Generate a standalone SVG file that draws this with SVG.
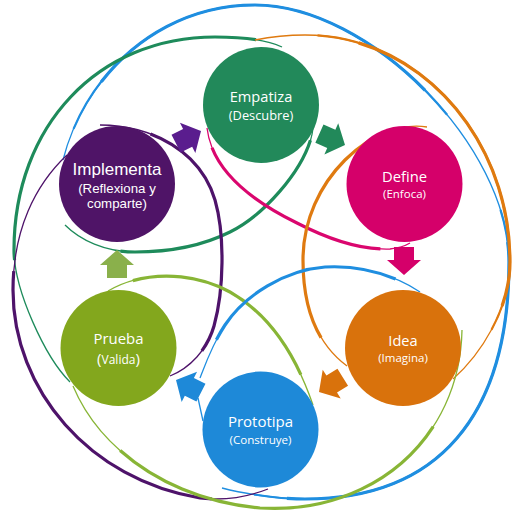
<svg xmlns="http://www.w3.org/2000/svg" xmlns:xlink="http://www.w3.org/1999/xlink" width="521" height="519" viewBox="0 0 521 519">
<style>
.ln{fill:none;stroke-linecap:butt;stroke-linejoin:round}
.w1{stroke-width:1.3}
.w2{stroke-width:2.2}
.w3{stroke-width:3.2}
.blue{stroke:#1F8EE0}
.green{stroke:#1E8B5B}
.mag{stroke:#DA066E}
.ora{stroke:#DF7A10}
.pur{stroke:#4E136A}
.oli{stroke:#88B536}
.t1{font-family:"Open Sans","Noto Sans",sans-serif;fill:#fff;text-anchor:middle}
.t2{font-family:"Liberation Sans",Arial,sans-serif;fill:#fff;text-anchor:middle}
</style>
<defs>
<path id="arrow" d="M0,0 L-15,-17 L-15,-10 L-28,-10 L-28,10 L-15,10 L-15,17 Z"/>
<path id="pBlueBig" pathLength="100" d="M63,160 C83,80 155,5 255,5 C369,5 509,146 509,262 C509,416 438,499 305,499 C280,499 245,494 222,488"/>
<path id="pGreenOut" pathLength="100" d="M282,47 C268,40 245,37 215,37 C98,37 14,126 14,250 C14,290 45,357 70,382"/>
<path id="pGreenIn" pathLength="100" d="M313,128 C310,160 270,212 230,232 C200,247 165,252 135,252 C105,252 80,240 65,225"/>
<path id="pMagIn" pathLength="100" d="M207,128 C212,170 250,200 297,223 C330,240 360,250 390,249 C398,248 405,246 410,243"/>
<path id="pOraOut" pathLength="100" d="M255,40 C270,37 290,35 305,35 C418,35 510,137 510,262 C510,310 480,355 453,379"/>
<path id="pOraIn" pathLength="100" d="M427,127 C400,123 370,135 345,160 C320,185 303,220 303,260 C303,300 312,340 347,366"/>
<path id="pPurIn" pathLength="100" d="M100,125 C150,125 200,150 215,200 C225,235 224,290 214,326 C207,350 190,368 170,376"/>
<path id="pPurOut" pathLength="100" d="M67,155 C35,185 13,230 13,290 C13,390 90,480 200,498 C225,501 250,496 268,489"/>
<path id="pOliIn" pathLength="100" d="M108,291 C140,272 190,270 230,292 C265,312 292,345 313,405"/>
<path id="pOliOut" pathLength="100" d="M73,386 C100,450 170,500 260,508 C370,515 460,440 462,330"/>
<path id="pBlueIn" pathLength="100" d="M420,292 C395,275 360,265 325,267 C285,270 245,295 225,325 C212,345 205,365 200,378"/>
</defs>

<g id="connectors">
  <use xlink:href="#pBlueBig" class="ln w1 blue"/>
  <use xlink:href="#pBlueBig" class="ln w2 blue" stroke-dasharray="0 3 42 10 42 200"/>
  <use xlink:href="#pBlueBig" class="ln w3 blue" stroke-dasharray="0 8 34 16 36 200"/>

  <use xlink:href="#pGreenOut" class="ln w1 green"/>
  <use xlink:href="#pGreenOut" class="ln w3 green" stroke-dasharray="0 5 70 200"/>

  <use xlink:href="#pGreenIn" class="ln w1 green"/>
  <use xlink:href="#pGreenIn" class="ln w3 green" stroke-dasharray="0 4 76 200"/>

  <use xlink:href="#pMagIn" class="ln w1 mag"/>
  <use xlink:href="#pMagIn" class="ln w3 mag" stroke-dasharray="0 8 80 200"/>

  <use xlink:href="#pOraOut" class="ln w1 ora"/>
  <use xlink:href="#pOraOut" class="ln w2 ora" stroke-dasharray="0 12 76 200"/>
  <use xlink:href="#pOraOut" class="ln w3 ora" stroke-dasharray="0 20 63 200"/>

  <use xlink:href="#pOraIn" class="ln w1 ora"/>
  <use xlink:href="#pOraIn" class="ln w3 ora" stroke-dasharray="0 12 76 200"/>

  <use xlink:href="#pPurIn" class="ln w1 pur"/>
  <use xlink:href="#pPurIn" class="ln w3 pur" stroke-dasharray="0 15 73 200"/>

  <use xlink:href="#pPurOut" class="ln w1 pur"/>
  <use xlink:href="#pPurOut" class="ln w3 pur" stroke-dasharray="0 25 64 200"/>

  <use xlink:href="#pOliIn" class="ln w1 oli"/>
  <use xlink:href="#pOliIn" class="ln w3 oli" stroke-dasharray="0 10 78 200"/>

  <use xlink:href="#pOliOut" class="ln w1 oli"/>
  <use xlink:href="#pOliOut" class="ln w3 oli" stroke-dasharray="0 15 66 200"/>

  <use xlink:href="#pBlueIn" class="ln w1 blue"/>
  <use xlink:href="#pBlueIn" class="ln w3 blue" stroke-dasharray="0 10 75 200"/>
  <path class="ln w1 blue" d="M198,398 L203,421"/>

  <use xlink:href="#arrow" fill="#5A1D8E" transform="translate(201,131) rotate(-27)"/>
  <use xlink:href="#arrow" fill="#22895A" transform="translate(345,145) rotate(24)"/>
  <use xlink:href="#arrow" fill="#D5006A" transform="translate(404,275) rotate(90)"/>
  <use xlink:href="#arrow" fill="#D9720C" transform="translate(319,392) rotate(148)"/>
  <use xlink:href="#arrow" fill="#1E89D8" transform="translate(176,380) rotate(207)"/>
  <use xlink:href="#arrow" fill="#8AB04B" transform="translate(117,250) rotate(-90)"/>
</g>

<g id="empatiza">
  <circle cx="261" cy="105" r="58" fill="#22895A"/>
  <text class="t1" x="261" y="102" font-size="14.6">Empatiza</text>
  <text class="t1" x="261" y="120" font-size="12.8">(Descubre)</text>
</g>
<g id="define">
  <circle cx="404.5" cy="184" r="58" fill="#D5006A"/>
  <text class="t1" x="404.5" y="182" font-size="14.8">Define</text>
  <text class="t1" x="404.5" y="198" font-size="11.5">(Enfoca)</text>
</g>
<g id="idea">
  <circle cx="403" cy="348" r="58" fill="#D9720C"/>
  <text class="t1" x="403" y="346" font-size="14.6">Idea</text>
  <text class="t1" x="403" y="362" font-size="11.5">(Imagina)</text>
</g>
<g id="prototipa">
  <circle cx="260.5" cy="429.5" r="58" fill="#1E89D8"/>
  <text class="t1" x="260.5" y="427" font-size="15">Prototipa</text>
  <text class="t1" x="260.5" y="444" font-size="11.6">(Construye)</text>
</g>
<g id="prueba">
  <circle cx="118.5" cy="348" r="58" fill="#83A71D"/>
  <text class="t1" x="118.5" y="344" font-size="14.9">Prueba</text>
  <text class="t1" x="118.5" y="364" font-size="12"><tspan font-size="15">(</tspan>Valida<tspan font-size="15">)</tspan></text>
</g>
<g id="implementa">
  <circle cx="117" cy="184" r="58" fill="#4F1467"/>
  <text class="t2" x="117" y="175" font-size="17">Implementa</text>
  <text class="t2" x="117" y="193" font-size="13.3">(Reflexiona y</text>
  <text class="t2" x="117" y="208" font-size="13.3">comparte)</text>
</g>
</svg>
